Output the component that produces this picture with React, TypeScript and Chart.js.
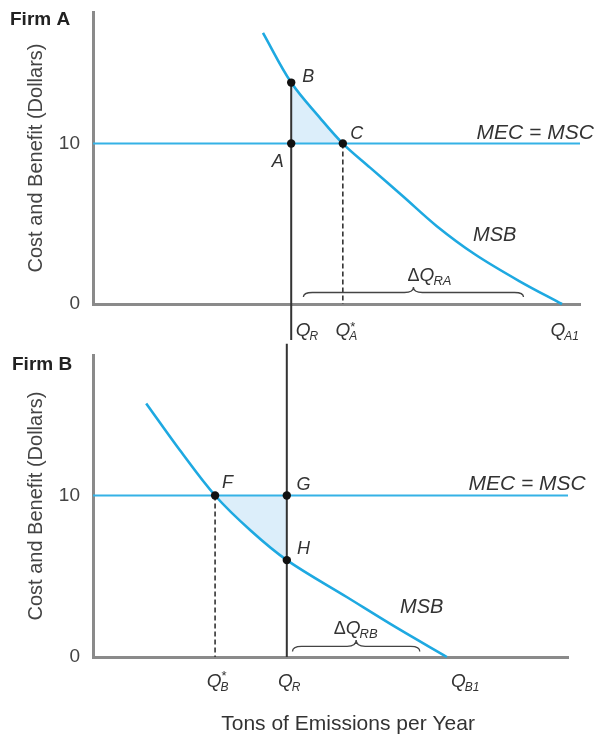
import React, { useEffect, useRef } from "react";
import { Chart, registerables } from "chart.js";

Chart.register(...registerables);

const FONT = "'Liberation Sans', Arial, Helvetica, sans-serif";
const CYAN = "#1ea9e1";
const MEC_CYAN = "#35b2e6";
const FILL = "#dceefa";
const AXIS = "#8a8a8a";
const INK = "#333333";
const CURVE_TENSION = 0.35;

// ---------- shared values ----------
const xRange = [0, 100];
const yTickValues = [0, 10];
const mecValue = 10;

// ---------- Firm A ----------
const firmAMsbX = [34.9, 40.7, 46.6, 51.3, 56.9, 63.7, 70.6, 78.4, 87.7, 96.3];
const firmAMsbY = [16.9, 13.8, 11.6, 10.0, 8.5, 6.7, 4.85, 3.1, 1.4, 0];
const firmAPointNames = ["A", "B", "C"];
const firmAPointX = [40.7, 40.7, 51.3];
const firmAPointY = [10, 13.8, 10];
const firmAShadeX = [40.7, 46.6, 51.3];
const firmAShadeY = [13.8, 11.6, 10.0];
const firmAQR = 40.7;
const firmAQRLineY = [13.8, -2.3];
const firmAQStar = 51.3;
const firmAQ1 = 96.3;
const firmABrace = [43.2, 88.4];
const firmAYMax = 18.2;

// ---------- Firm B ----------
const firmBMsbX = [11.2, 18.3, 25.7, 33.3, 40.8, 53.5, 64.0, 74.5];
const firmBMsbY = [15.7, 12.8, 10.0, 7.8, 6.0, 3.7, 1.8, 0];
const firmBPointNames = ["F", "G", "H"];
const firmBPointX = [25.7, 40.8, 40.8];
const firmBPointY = [10, 10, 6.0];
const firmBShadeX = [25.7, 33.3, 40.8];
const firmBShadeY = [10.0, 7.8, 6.0];
const firmBQR = 40.8;
const firmBQRLineY = [19.4, 0];
const firmBQStar = 25.7;
const firmBQ1 = 74.5;
const firmBBrace = [42.0, 68.8];
const firmBYMax = 18.7;

type QLabel = { x: number; dx: number; sub: string; sup?: string };
type Panel = {
  firm: string;
  top: number;
  height: number;
  padTop: number;
  padRight: number;
  xAxisH: number;
  yMax: number;
  msbX: number[];
  msbY: number[];
  ptNames: string[];
  ptX: number[];
  ptY: number[];
  ptOff: number[][];
  shadeX: number[];
  shadeY: number[];
  qr: number;
  qrLineY: number[];
  qStar: number;
  brace: number[];
  braceEnd: number;
  braceTip: number;
  firmPos: number[];
  mecLabel: number[];
  msbLabel: number[];
  dqLabel: number[];
  dqSub: string;
  qLabels: QLabel[];
  qDy: number;
  supDy: number;
  xTitle?: { x: number; dy: number; text: string };
};

const panelA: Panel = {
  firm: "Firm A",
  top: 0,
  height: 340,
  padTop: 12,
  padRight: 24,
  xAxisH: 36,
  yMax: firmAYMax,
  msbX: firmAMsbX,
  msbY: firmAMsbY,
  ptNames: firmAPointNames,
  ptX: firmAPointX,
  ptY: firmAPointY,
  ptOff: [[-13.5, 18], [17, -6], [14, -10]],
  shadeX: firmAShadeX,
  shadeY: firmAShadeY,
  qr: firmAQR,
  qrLineY: firmAQRLineY,
  qStar: firmAQStar,
  brace: firmABrace,
  braceEnd: 7,
  braceTip: 17,
  firmPos: [10, 20],
  mecLabel: [90.8, 10.65],
  msbLabel: [82.5, 4.3],
  dqLabel: [69.2, 1.74],
  dqSub: "RA",
  qLabels: [
    { x: firmAQR, dx: 12, sub: "R" },
    { x: firmAQStar, dx: 0, sub: "A", sup: "*" },
    { x: firmAQ1, dx: -4, sub: "A1" },
  ],
  qDy: 27,
  supDy: -4,
};

const panelB: Panel = {
  firm: "Firm B",
  top: 340,
  height: 396,
  padTop: 15,
  padRight: 36,
  xAxisH: 79,
  yMax: firmBYMax,
  msbX: firmBMsbX,
  msbY: firmBMsbY,
  ptNames: firmBPointNames,
  ptX: firmBPointX,
  ptY: firmBPointY,
  ptOff: [[12.5, -12.7], [16.6, -11], [16.6, -11]],
  shadeX: firmBShadeX,
  shadeY: firmBShadeY,
  qr: firmBQR,
  qrLineY: firmBQRLineY,
  qStar: firmBQStar,
  brace: firmBBrace,
  braceEnd: 5.5,
  braceTip: 17,
  firmPos: [12, 25],
  mecLabel: [91.4, 10.7],
  msbLabel: [69.2, 3.04],
  dqLabel: [55.4, 1.74],
  dqSub: "RB",
  qLabels: [
    { x: firmBQStar, dx: -1, sub: "B", sup: "*" },
    { x: firmBQR, dx: -1.5, sub: "R" },
    { x: firmBQ1, dx: 11.5, sub: "B1" },
  ],
  qDy: 25,
  supDy: -6,
  xTitle: { x: 53.7, dy: 67, text: "Tons of Emissions per Year" },
};

function drawBrace(ctx: CanvasRenderingContext2D, x1: number, x2: number, yEnd: number, yTip: number) {
  const xm = (x1 + x2) / 2;
  const yMid = yEnd - (yEnd - yTip) * 0.45;
  const r = 9;
  ctx.beginPath();
  ctx.moveTo(x1, yEnd);
  ctx.quadraticCurveTo(x1, yMid, x1 + r, yMid);
  ctx.lineTo(xm - r, yMid);
  ctx.quadraticCurveTo(xm, yMid, xm, yTip);
  ctx.quadraticCurveTo(xm, yMid, xm + r, yMid);
  ctx.lineTo(x2 - r, yMid);
  ctx.quadraticCurveTo(x2, yMid, x2, yEnd);
  ctx.stroke();
}

function makeLabelPlugin(p: Panel) {
  return {
    id: "econLabels",
    afterDraw(chart: any) {
      const { ctx, chartArea } = chart;
      const xs = chart.scales.x;
      const ys = chart.scales.y;
      const X = (v: number) => xs.getPixelForValue(v);
      const Y = (v: number) => ys.getPixelForValue(v);
      ctx.save();
      ctx.fillStyle = INK;
      ctx.strokeStyle = "#444";
      ctx.textBaseline = "middle";

      // firm title
      ctx.font = `bold 19px ${FONT}`;
      ctx.textAlign = "left";
      ctx.fillStyle = "#222";
      ctx.fillText(p.firm, p.firmPos[0], p.firmPos[1]);
      ctx.fillStyle = INK;

      // point labels
      ctx.font = `italic 18px ${FONT}`;
      ctx.textAlign = "center";
      p.ptNames.forEach((n, i) => {
        ctx.fillText(n, X(p.ptX[i]) + p.ptOff[i][0], Y(p.ptY[i]) + p.ptOff[i][1]);
      });

      // curve labels
      ctx.font = `italic 21px ${FONT}`;
      ctx.fillText("MEC = MSC", X(p.mecLabel[0]), Y(p.mecLabel[1]));
      ctx.font = `italic 20px ${FONT}`;
      ctx.fillText("MSB", X(p.msbLabel[0]), Y(p.msbLabel[1]));

      // delta Q label
      {
        const cx = X(p.dqLabel[0]);
        const cy = Y(p.dqLabel[1]);
        ctx.font = `18px ${FONT}`;
        const wd = ctx.measureText("\u0394").width;
        ctx.font = `italic 19px ${FONT}`;
        const wq = ctx.measureText("Q").width;
        ctx.font = `italic 13px ${FONT}`;
        const ws = ctx.measureText(p.dqSub).width;
        let x0 = cx - (wd + wq + ws) / 2;
        ctx.textAlign = "left";
        ctx.font = `18px ${FONT}`;
        ctx.fillText("\u0394", x0, cy);
        x0 += wd;
        ctx.font = `italic 19px ${FONT}`;
        ctx.fillText("Q", x0, cy);
        x0 += wq - 1;
        ctx.font = `italic 13px ${FONT}`;
        ctx.fillText(p.dqSub, x0, cy + 5);
      }

      // brace
      ctx.lineWidth = 1.3;
      drawBrace(ctx, X(p.brace[0]), X(p.brace[1]), chartArea.bottom - p.braceEnd, chartArea.bottom - p.braceTip);

      // axis Q labels
      p.qLabels.forEach((q) => {
        const cx = X(q.x) + q.dx;
        const cy = chartArea.bottom + p.qDy;
        ctx.font = `italic 19px ${FONT}`;
        ctx.textAlign = "center";
        const w = ctx.measureText("Q").width;
        ctx.fillText("Q", cx, cy);
        ctx.textAlign = "left";
        ctx.font = `italic 12px ${FONT}`;
        ctx.fillText(q.sub, cx + w / 2 - 1, cy + 6);
        if (q.sup) {
          ctx.font = `13px ${FONT}`;
          ctx.fillText(q.sup, cx + w / 2, cy + p.supDy);
        }
      });

      // x title
      if (p.xTitle) {
        ctx.font = `21px ${FONT}`;
        ctx.textAlign = "center";
        ctx.fillText(p.xTitle.text, X(p.xTitle.x), chartArea.bottom + p.xTitle.dy);
      }
      ctx.restore();
    },
  };
}

function buildConfig(p: Panel): any {
  const xy = (xs: number[], ys: number[]) => xs.map((x, i) => ({ x, y: ys[i] }));
  return {
    type: "line",
    data: {
      datasets: [
        {
          label: "points",
          data: xy(p.ptX, p.ptY),
          showLine: false,
          pointRadius: 4.2,
          pointBackgroundColor: "#111",
          pointBorderWidth: 0,
          clip: false,
        },
        {
          label: "QR",
          data: [
            { x: p.qr, y: p.qrLineY[0] },
            { x: p.qr, y: p.qrLineY[1] },
          ],
          borderColor: "#333",
          borderWidth: 2,
          pointRadius: 0,
          clip: false,
        },
        {
          label: "Qstar",
          data: [
            { x: p.qStar, y: mecValue },
            { x: p.qStar, y: 0 },
          ],
          borderColor: "#333",
          borderWidth: 1.6,
          borderDash: [5, 3],
          pointRadius: 0,
        },
        {
          label: "MSB",
          data: xy(p.msbX, p.msbY),
          borderColor: CYAN,
          borderWidth: 2.6,
          pointRadius: 0,
          tension: CURVE_TENSION,
          clip: false,
        },
        {
          label: "MEC",
          data: [
            { x: xRange[0], y: mecValue },
            { x: xRange[1], y: mecValue },
          ],
          borderColor: MEC_CYAN,
          borderWidth: 2,
          pointRadius: 0,
        },
        {
          label: "shade",
          data: xy(p.shadeX, p.shadeY),
          borderWidth: 0,
          borderColor: "rgba(0,0,0,0)",
          pointRadius: 0,
          fill: { value: mecValue },
          backgroundColor: FILL,
          tension: CURVE_TENSION,
        },
      ],
    },
    options: {
      responsive: false,
      animation: false,
      events: [],
      layout: { padding: { top: p.padTop, right: p.padRight, left: 0, bottom: 0 } },
      plugins: {
        legend: { display: false },
        tooltip: { enabled: false },
        title: { display: false },
      },
      scales: {
        x: {
          type: "linear",
          min: xRange[0],
          max: xRange[1],
          grid: { display: false, drawTicks: false },
          ticks: { display: false },
          border: { display: true, color: AXIS, width: 3 },
          afterFit: (s: any) => {
            s.height = p.xAxisH;
            s.paddingLeft = 0;
            s.paddingRight = 0;
          },
        },
        y: {
          type: "linear",
          min: 0,
          max: p.yMax,
          grid: { display: false, drawTicks: false },
          border: { display: true, color: AXIS, width: 3 },
          ticks: { color: "#444", font: { family: FONT, size: 19 }, padding: 13 },
          afterBuildTicks: (s: any) => {
            s.ticks = yTickValues.map((v) => ({ value: v }));
          },
          afterFit: (s: any) => {
            s.width = 93;
            s.paddingTop = 0;
            s.paddingBottom = 0;
          },
          title: {
            display: true,
            text: "Cost and Benefit (Dollars)",
            color: "#444",
            font: { family: FONT, size: 20 },
            padding: { top: 24, bottom: 0 },
          },
        },
      },
    },
    plugins: [makeLabelPlugin(p)],
  };
}

function PanelChart({ p }: { p: Panel }) {
  const ref = useRef<HTMLCanvasElement>(null);
  useEffect(() => {
    const chart = new Chart(ref.current as HTMLCanvasElement, buildConfig(p));
    return () => chart.destroy();
  }, [p]);
  return (
    <canvas
      ref={ref}
      width={604}
      height={p.height}
      style={{ position: "absolute", left: 0, top: p.top, width: 604, height: p.height }}
    />
  );
}

export default function App() {
  return (
    <div style={{ position: "absolute", left: 0, top: 0, width: 604, height: 736, background: "#fff" }}>
      <PanelChart p={panelA} />
      <PanelChart p={panelB} />
    </div>
  );
}
